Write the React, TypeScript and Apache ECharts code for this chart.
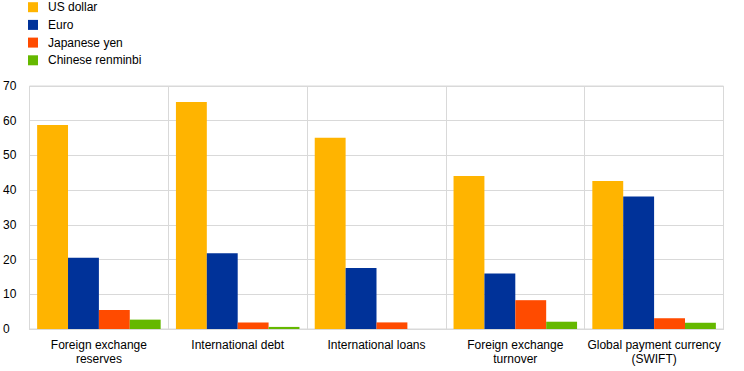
import React, { useEffect, useRef } from "react";
import * as echarts from "echarts";

const categories = [
  "Foreign exchange\nreserves",
  "International debt",
  "International loans",
  "Foreign exchange\nturnover",
  "Global payment currency\n(SWIFT)",
];
const usDollar = [58.8, 65.4, 55.1, 44.1, 42.6];
const euro = [20.5, 21.8, 17.6, 16.0, 38.2];
const japaneseYen = [5.5, 1.9, 1.9, 8.3, 3.1];
const chineseRenminbi = [2.7, 0.6, 0, 2.1, 1.8];
const yTicks = { min: 0, max: 70, interval: 10 };

const FONT = "'Liberation Sans', Arial, sans-serif";

export default function App() {
  const ref = useRef<HTMLDivElement>(null);
  useEffect(() => {
    document.body.style.margin = "0";
    const chart = echarts.init(ref.current!, null, { renderer: "svg" });
    const mk = (name: string, data: number[], color: string) => ({
      name,
      type: "bar",
      data,
      barGap: "0%",
      barCategoryGap: "11%",
      itemStyle: { color },
    });
    chart.setOption({
      animation: false,
      textStyle: { fontFamily: FONT },
      legend: {
        orient: "vertical",
        left: 28,
        top: 1.2,
        padding: 0,
        itemWidth: 10,
        itemHeight: 10,
        itemGap: 5.7,
        icon: "rect",
        textStyle: { fontSize: 12, lineHeight: 10, color: "#000", fontFamily: FONT, padding: [0, 0, 0, 5] },
        data: ["US dollar", "Euro", "Japanese yen", "Chinese renminbi"],
      },
      grid: {
        left: 27.5,
        right: 20.5,
        top: 86,
        bottom: 42,
        show: true,
        borderColor: "#d9d9d9",
        borderWidth: 1,
      },
      xAxis: {
        type: "category",
        data: categories,
        axisTick: { show: false },
        axisLine: { lineStyle: { color: "#d9d9d9" } },
        splitLine: { show: true, lineStyle: { color: "#d9d9d9" } },
        axisLabel: { color: "#000", fontSize: 12, lineHeight: 14, margin: 9, interval: 0, fontFamily: FONT },
      },
      yAxis: {
        type: "value",
        min: yTicks.min,
        max: yTicks.max,
        interval: yTicks.interval,
        axisLine: { show: false },
        axisTick: { show: false },
        splitLine: { lineStyle: { color: "#d9d9d9" } },
        axisLabel: { color: "#000", fontSize: 12, margin: 26.5, align: "left", fontFamily: FONT },
      },
      series: [
        mk("US dollar", usDollar, "#FFB400"),
        mk("Euro", euro, "#003299"),
        mk("Japanese yen", japaneseYen, "#FF4B00"),
        mk("Chinese renminbi", chineseRenminbi, "#65B800"),
      ],
    });
    return () => chart.dispose();
  }, []);
  return <div ref={ref} style={{ width: 744, height: 371 }} />;
}
